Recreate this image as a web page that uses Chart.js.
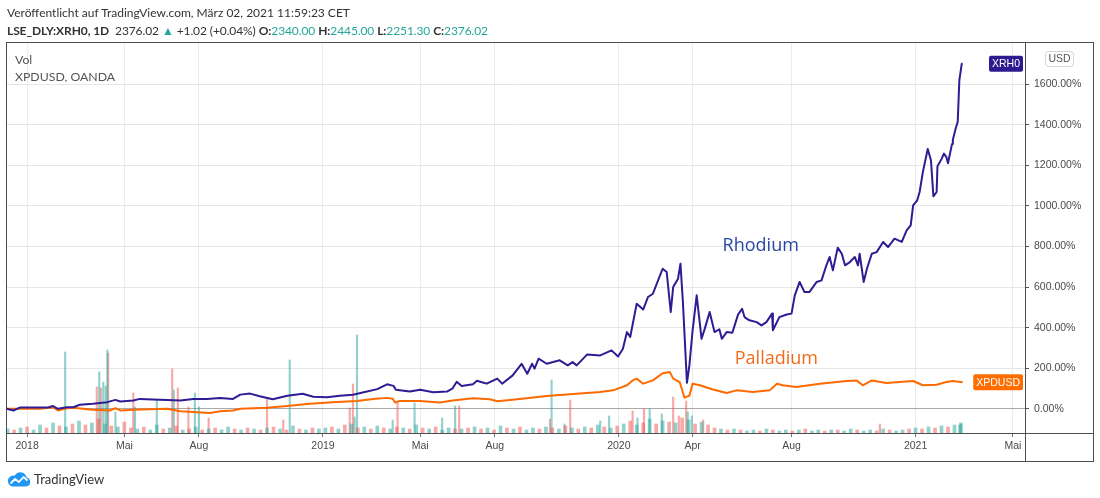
<!DOCTYPE html>
<html>
<head>
<meta charset="utf-8">
<title>Rhodium vs Palladium</title>
<script src="https://cdn.jsdelivr.net/npm/chart.js@4.4.0/dist/chart.umd.min.js"></script>
<style>
  html, body { margin: 0; padding: 0; background: #fff; }
  body { width: 1100px; height: 498px; position: relative; overflow: hidden; font-family: "Lato", "Liberation Sans", sans-serif; color: #333; }
  #chart { position: absolute; left: 0; top: 0; }
  .hdr { position: absolute; left: 7px; white-space: nowrap; font-size: 12px; line-height: 16px; z-index: 2; }
  #line1 { top: 5px; }
  #line2 { top: 23px; letter-spacing: -0.1px; }
  .b { font-weight: bold; }
  .up { color: #26a69a; }
  .legend { position: absolute; left: 15px; font-size: 12.3px; line-height: 16px; color: #555; z-index: 2; }
  #footer { position: absolute; left: 7px; top: 471px; font-size: 13px; color: #333; display: flex; align-items: center; z-index: 2; }
  #footer svg { margin-right: 3px; }
</style>
</head>
<body>
<div class="hdr" id="line1">Veröffentlicht auf TradingView.com, März 02, 2021 11:59:23 CET</div>
<div class="hdr" id="line2"><span class="b">LSE_DLY:XRH0, 1D</span>&nbsp; 2376.02 <span class="up">▲</span> +1.02 (+0.04%) <span class="b">O:</span><span class="up">2340.00</span> <span class="b">H:</span><span class="up">2445.00</span> <span class="b">L:</span><span class="up">2251.30</span> <span class="b">C:</span><span class="up">2376.02</span></div>
<div class="legend" style="top:52px">Vol</div>
<div class="legend" style="top:69px">XPDUSD, OANDA</div>
<canvas id="chart" width="1100" height="498"></canvas>
<div id="footer">
  <svg width="24" height="16" viewBox="0 0 24 16"><path d="M5 15.5h14a4.5 4.5 0 0 0 .6-8.9A6.2 6.2 0 0 0 8 4.6 5 5 0 0 0 5 15.5z" fill="#2196f3"/><polyline points="3.5,12.5 8,8 12,11 16.5,6 20.5,9.5" fill="none" stroke="#fff" stroke-width="1.8" stroke-linejoin="round"/></svg>
  <span>TradingView</span>
</div>
<script>
// x values are days counted from 1 Jan 2018, y values are % change since the first bar
const rhodiumDays = [-25,-17,-9,7,25,32,38,49,57,65,81,99,109,115,131,139,155,173,189,205,
  222,238,254,263,275,287,303,321,340,353,370,386,402,414,432,444,452,455,472,485,
  501,518,525,530,536,550,555,562,567,580,586,599,610,617,623,626,631,641,657,667,
  673,678,691,707,721,729,735,740,744,752,760,766,772,784,789,794,797,803,806,809,
  814,817,821,826,832,836,842,848,854,857,863,870,877,882,885,891,900,906,912,919,
  920,928,937,943,947,953,959,965,974,980,986,990,994,1000,1005,1009,1015,1021,1025,1027,
  1032,1036,1042,1048,1056,1062,1070,1079,1085,1090,1093,1098,1101,1105,1111,1115,1118,1122,1123,1128,
  1131,1134,1136,1141,1142,1146,1148,1150,1153,1154];
const rhodiumPct = [0,-8,6,6,6,14,0,8,8,20,25,33,44,36,41,49,46,44,41,49,
  49,53,49,70,75,62,47,64,74,60,57,64,69,80,97,121,113,94,85,94,
  82,85,101,133,112,121,138,130,124,149,124,165,222,173,222,198,247,222,239,214,
  230,214,268,263,288,258,296,378,354,518,489,551,567,690,674,477,600,641,715,526,
  128,214,387,559,345,395,477,378,392,345,378,375,464,493,452,436,427,411,427,469,
  387,452,465,469,559,625,575,575,625,633,707,748,682,794,764,707,723,748,707,764,
  625,690,764,772,822,797,838,822,879,904,1002,1027,1068,1166,1280,1224,1047,1068,1195,1230,
  1257,1240,1210,1305,1326,1388,1413,1618,1700,1700];

const palladiumDays = [-25,16,32,38,49,57,81,102,109,115,131,173,189,205,226,238,254,263,296,321,
  345,377,407,427,444,451,454,460,485,509,525,550,571,580,599,641,682,707,723,740,
  747,752,760,772,784,793,797,805,811,817,821,830,846,863,875,895,916,925,932,949,
  978,1011,1023,1031,1042,1060,1093,1105,1122,1134,1142,1154];
const palladiumPct = [0,0,8,-8,3,5,-5,-8,3,-8,-5,0,-12,-16,-21,-12,-8,0,5,14,
  24,33,39,48,54,50,31,39,39,31,41,52,47,37,45,63,75,83,91,116,
  140,149,124,140,175,181,149,132,55,65,124,116,95,78,91,83,91,124,116,108,
  124,137,140,116,140,127,137,116,119,132,137,131];

// volume: one bar every 8 days from day -24, sign = direction (>0 up, <0 down)
const volStartDay = -24, volStepDays = 8;
const volBase = [4,-3,5,-6,3,8,-5,10,-7,6,-9,12,-8,10,-14,9,-7,6,-11,
  -5,4,-6,3,8,-4,5,-7,3,-4,6,-3,4,-5,3,6,-4,3,-5,4,-3,5,-6,4,-3,7,-4,3,-5,4,
  5,-6,4,-8,9,-5,6,-4,7,-5,4,-6,5,-4,8,-5,4,-6,3,5,-4,
  4,-5,6,-4,5,-3,7,-5,4,-6,3,5,-4,6,-5,4,-7,5,-4,6,-5,8,-6,5,-7,
  9,-12,8,-10,14,-9,12,-11,10,-15,13,-9,11,-8,
  -5,4,-3,4,-3,2,3,-2,4,-3,2,3,-2,3,-4,2,3,-2,3,-3,2,4,-3,2,3,-2,4,-3,2,3,-4,
  5,-4,6,-5,7,-6,8,10];
const volSpikeDays = [47,86,89,91,94,97,99,100,109,131,133,160,179,181,186,199,207,212,224,296,
  316,324,398,402,404,407,451,457,478,512,528,533,645,647,663,670,707,718,747,753,
  761,768,783,797,804,813,815,820,834,1052,1150,1152];
const volSpikes = [81,-46,61,-45,51,47,83,-80,21,-40,26,33,-64,43,-45,-26,40,26,-15,-35,
  -13,73,-25,-49,16,98,13,-31,30,15,27,-27,-14,53,9,-33,12,17,-22,15,
  -24,24,19,-36,-17,-32,21,17,-13,-9,8,9];

const pctTicks = [0,200,400,600,800,1000,1200,1400,1600];
const timeTickDays = [0,120,212,365,485,577,730,821,943,1096,1216];
const timeTickLabels = ['2018','Mai','Aug','2019','Mai','Aug','2020','Apr','Aug','2021','Mai'];

const upColor = 'rgba(38,166,154,0.5)';
const downColor = 'rgba(239,83,80,0.5)';

function pts(xs, ys) {
  return xs.map((x, i) => ({ x: x, y: ys[i] }));
}
function volPts(days, vals, up) {
  const out = [];
  vals.forEach((v, i) => {
    if ((v > 0) === up) out.push({ x: days[i], y: Math.abs(v) });
  });
  return out;
}
const baseDays = volBase.map((v, i) => volStartDay + i * volStepDays);

function volSet(label, data, color, thick) {
  return {
    type: 'bar', label: label, data: data,
    backgroundColor: color, barThickness: thick, grouped: false,
    yAxisID: 'yVol', order: 2
  };
}

function roundBox(c, x, y, w, h, r) {
  c.beginPath();
  c.moveTo(x + r, y);
  c.arcTo(x + w, y, x + w, y + h, r);
  c.arcTo(x + w, y + h, x, y + h, r);
  c.arcTo(x, y + h, x, y, r);
  c.arcTo(x, y, x + w, y, r);
  c.closePath();
}

function drawTag(c, text, yPix, right, bg) {
  c.font = '10.5px "Liberation Sans"';
  const w = c.measureText(text).width + 6, h = 16;
  c.fillStyle = bg;
  roundBox(c, right - w, yPix - h / 2, w, h, 2);
  c.fill();
  c.fillStyle = '#fff';
  c.textAlign = 'left';
  c.textBaseline = 'middle';
  c.fillText(text, right - w + 3, yPix + 0.5);
}

// TradingView style decorations: annotations, last value tags, frame
const tvDecor = {
  id: 'tvDecor',
  afterDatasetsDraw(chart) {
    const c = chart.ctx, xs = chart.scales.x, ys = chart.scales.y, a = chart.chartArea;
    c.save();
    c.font = '18px "Open Sans"';
    c.textAlign = 'left';
    c.textBaseline = 'middle';
    c.fillStyle = '#2846a6';
    c.fillText('Rhodium', xs.getPixelForValue(858), ys.getPixelForValue(802));
    c.fillStyle = '#f26a1b';
    c.fillText('Palladium', xs.getPixelForValue(873), ys.getPixelForValue(245));

    drawTag(c, 'XRH0', ys.getPixelForValue(rhodiumPct[rhodiumPct.length - 1]), a.right - 2, '#2e1a8f');
    drawTag(c, 'XPDUSD', ys.getPixelForValue(palladiumPct[palladiumPct.length - 1]), a.right - 2, '#ff6d00');
    c.restore();
  },
  afterDraw(chart) {
    const c = chart.ctx, a = chart.chartArea, ys = chart.scales.y;
    const L = a.left + 0.5, T = a.top - 0.5;
    const R = chart.width - 6.5, B = chart.height - 36.5;
    c.save();
    c.strokeStyle = '#4e4e4e';
    c.lineWidth = 1;
    c.strokeRect(L, T, R - L, B - T);
    c.beginPath();
    c.moveTo(a.right + 0.5, T); c.lineTo(a.right + 0.5, B);
    c.moveTo(L, a.bottom + 0.5); c.lineTo(R, a.bottom + 0.5);
    c.stroke();

    // currency box
    c.strokeStyle = '#d1d4dc';
    c.fillStyle = '#fff';
    roundBox(c, ys.left + 20.5, a.top + 8.5, 28, 15, 3);
    c.fill(); c.stroke();
    c.fillStyle = '#555';
    c.font = '10.5px "Liberation Sans"';
    c.textAlign = 'center';
    c.textBaseline = 'middle';
    c.fillText('USD', ys.left + 34.5, a.top + 16.5);
    c.restore();
  }
};

const axisFont = { family: 'Liberation Sans', size: 10.5 };

new Chart(document.getElementById('chart').getContext('2d'), {
  type: 'line',
  data: {
    datasets: [
      {
        label: 'XRH0',
        data: pts(rhodiumDays, rhodiumPct),
        borderColor: '#2f1c94',
        borderWidth: 2,
        pointRadius: 0,
        tension: 0,
        borderJoinStyle: 'round',
        yAxisID: 'y',
        order: 0
      },
      {
        label: 'XPDUSD',
        data: pts(palladiumDays, palladiumPct),
        borderColor: '#ff6a00',
        borderWidth: 2,
        pointRadius: 0,
        tension: 0,
        borderJoinStyle: 'round',
        yAxisID: 'y',
        order: 1
      },
      volSet('Vol up', volPts(baseDays, volBase, true), upColor, 3),
      volSet('Vol down', volPts(baseDays, volBase, false), downColor, 3),
      volSet('Vol up spikes', volPts(volSpikeDays, volSpikes, true), upColor, 1.5),
      volSet('Vol down spikes', volPts(volSpikeDays, volSpikes, false), downColor, 1.5)
    ]
  },
  options: {
    responsive: false,
    animation: false,
    events: [],
    layout: { padding: { left: 6, top: 43, right: 7, bottom: 36 } },
    plugins: { legend: { display: false }, tooltip: { enabled: false } },
    scales: {
      x: {
        type: 'linear',
        min: -26,
        max: 1231,
        offset: false,
        border: { display: false },
        grid: { color: '#ebebeb', tickColor: '#777', tickLength: 4, offset: false },
        afterBuildTicks: s => { s.ticks = timeTickDays.map(v => ({ value: v })); },
        afterFit: s => { s.height = 29; },
        ticks: {
          autoSkip: false,
          maxRotation: 0,
          padding: 3,
          color: '#4a4a4a',
          font: axisFont,
          callback: v => timeTickLabels[timeTickDays.indexOf(v)]
        }
      },
      y: {
        type: 'linear',
        position: 'right',
        min: -119,
        max: 1802,
        border: { display: false },
        grid: {
          color: c => (c.tick && c.tick.value === 0) ? '#a9a9a9' : '#e6e6e6',
          tickColor: '#555',
          tickLength: 4
        },
        afterBuildTicks: s => { s.ticks = pctTicks.map(v => ({ value: v })); },
        afterFit: s => { s.width = 68; },
        ticks: {
          padding: 5,
          color: '#4a4a4a',
          font: axisFont,
          callback: v => v.toFixed(2) + '%'
        }
      },
      yVol: {
        type: 'linear',
        display: false,
        min: 0,
        max: 390
      }
    }
  },
  plugins: [tvDecor]
});
</script>
</body>
</html>
